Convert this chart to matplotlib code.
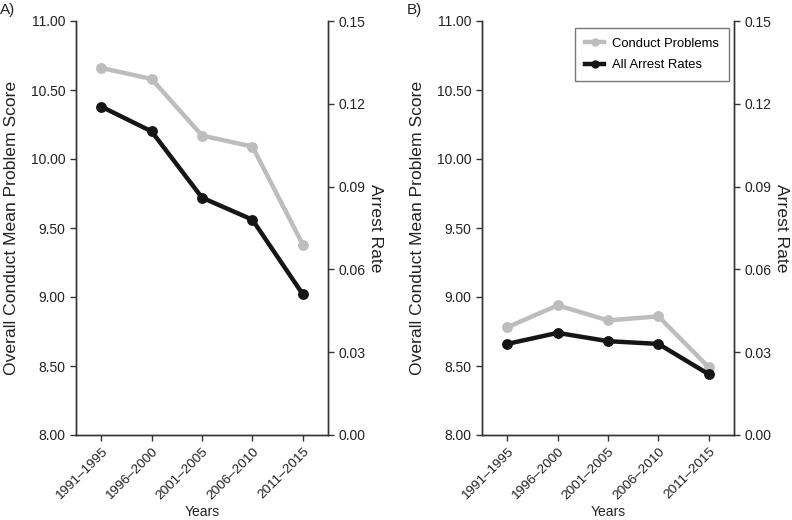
import matplotlib.pyplot as plt
import numpy as np

plt.rcParams['font.family'] = ['Liberation Sans', 'DejaVu Sans']

years = ['1991\u20131995', '1996\u20132000', '2001\u20132005', '2006\u20132010', '2011\u20132015']

# Panel A
conduct_a = [10.66, 10.58, 10.17, 10.09, 9.38]
arrest_a = [0.119, 0.110, 0.086, 0.078, 0.051]

# Panel B
conduct_b = [8.78, 8.94, 8.83, 8.86, 8.49]
arrest_b = [0.033, 0.037, 0.034, 0.033, 0.022]

grey = '#bdbdbd'
black = '#151515'
spine = '#333333'
txt = '#222222'

fig = plt.figure(figsize=(7.92, 5.2), dpi=100)

panels = [
    ('A)', conduct_a, arrest_a, 76, 0),
    ('B)', conduct_b, arrest_b, 482, 407),
]

x = np.arange(len(years))
for label, cp, ar, left_px, lab_px in panels:
    ax = fig.add_axes([left_px / 792, 1 - 435 / 520, 252 / 792, 414 / 520])
    ax2 = ax.twinx()

    l1, = ax.plot(x, cp, color=grey, lw=3.2, marker='o', ms=6.8, label='Conduct Problems')
    l2, = ax2.plot(x, ar, color=black, lw=3.2, marker='o', ms=6.8, label='All Arrest Rates')

    ax.set_xlim(-0.5, 4.5)
    ax.set_ylim(8, 11)
    ax.set_yticks(np.arange(8, 11.01, 0.5))
    ax.set_yticklabels(['%.2f' % v for v in np.arange(8, 11.01, 0.5)])
    ax2.set_ylim(0, 0.15)
    ax2.set_yticks(np.arange(0, 0.151, 0.03))
    ax2.set_yticklabels(['%.2f' % v for v in np.arange(0, 0.151, 0.03)])

    ax.set_xticks(x)
    ax.set_xticklabels(years, rotation=45, ha='right', rotation_mode='anchor')

    for a in (ax, ax2):
        a.spines['top'].set_visible(False)
        for s in ('left', 'right', 'bottom'):
            a.spines[s].set_color(spine)
            a.spines[s].set_linewidth(1)
        a.tick_params(colors=spine, labelcolor=txt, labelsize=10, length=4, width=1)
    ax.tick_params(axis='x', labelsize=9.7)

    ax.set_ylabel('Overall Conduct Mean Problem Score', fontsize=12.6, color=txt)
    ax.yaxis.set_label_coords(-0.225, 0.5)
    ax2.set_ylabel('Arrest Rate', fontsize=12.6, color=txt, rotation=270, va='center')
    ax2.yaxis.set_label_coords(1.19, 0.5)
    ax.set_xlabel('Years', fontsize=10, color=txt, va='center')
    ax.xaxis.set_label_coords(0.5, -0.187)

    fig.text(lab_px / 792, 1 - 10 / 520, label, fontsize=11, color=txt, va='center', ha='left')

    if label == 'B)':
        leg = ax2.legend(handles=[l1, l2], loc='upper right', bbox_to_anchor=(0.98, 0.983),
                         borderaxespad=0, fontsize=9.4, fancybox=False, edgecolor='#555555',
                         handlelength=1.5, handletextpad=0.6, borderpad=0.75, labelspacing=0.7)
        leg.get_frame().set_linewidth(1)
        for line in leg.get_lines():
            line.set_markersize(5)

fig.savefig('out.png', dpi=100)
